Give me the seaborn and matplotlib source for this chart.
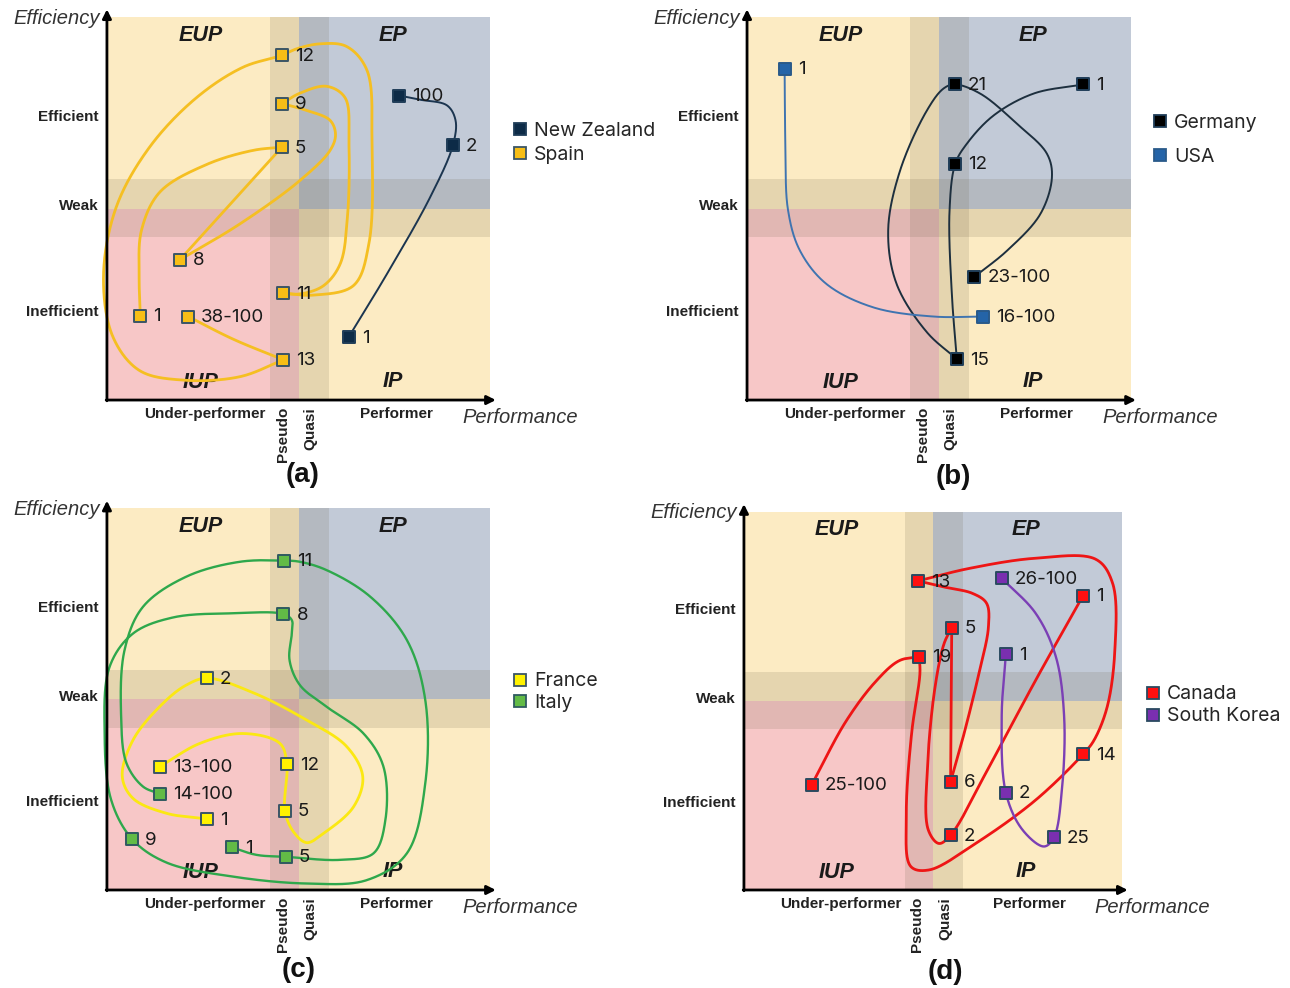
import numpy as np
import matplotlib
matplotlib.use("Agg")
import matplotlib.pyplot as plt
from matplotlib.patches import Rectangle
from matplotlib.lines import Line2D
import seaborn as sns

sns.set_theme(style="white")
plt.rcParams["font.family"] = ["Liberation Sans", "DejaVu Sans"]

# ---------------------------------------------------------------- zones
# Performance axis: under-performer | pseudo | quasi | performer
PSEUDO_START, QUADRANT_SPLIT, QUASI_END = 4.25, 5.0, 5.78
# Efficiency axis: inefficient | lower weak band | upper weak band | efficient
WEAK_LOW, WEAK_SPLIT, WEAK_HIGH = 4.25, 5.0, 5.76

X_TICK_POS = [2.55, 4.58, 5.31, 7.55]
X_TICK_LABELS = ["Under-performer", "Pseudo", "Quasi", "Performer"]
X_TICK_ROT = [0, 90, 90, 0]
Y_TICK_POS = [7.44, 5.1, 2.35]
Y_TICK_LABELS = ["Efficient", "Weak", "Inefficient"]
QUAD_LABELS = ["EUP", "EP", "IUP", "IP"]
QUAD_X = [2.45, 7.45, 2.45, 7.45]
QUAD_Y = [9.52, 9.52, 0.45, 0.48]

# ---------------------------------------------------------------- (a)
NZ_LBL = ["1", "2", "100"]
NZ_X = [6.30, 9.02, 7.62]
NZ_Y = [1.64, 6.65, 7.95]
NZ_ROUTE = [["1", (7.30, 3.29), (8.43, 5.30), "2", (9.09, 7.30),
             (8.87, 7.69), (8.17, 7.84), "100"]]

SPAIN_LBL = ["1", "5", "8", "9", "11", "12", "13", "38-100"]
SPAIN_X = [0.87, 4.56, 1.90, 4.56, 4.58, 4.56, 4.60, 2.12]
SPAIN_Y = [2.20, 6.60, 3.66, 7.74, 2.79, 9.00, 1.05, 2.18]
SPAIN_ROUTE = [
    ["1", (0.84, 3.21), (0.90, 4.43), (1.38, 5.43), (2.60, 6.15),
     (3.82, 6.52), "5"],
    ["5", "8"],
    ["8", (3.47, 4.60), (5.03, 5.73), (5.82, 6.52), (5.96, 6.93),
     (5.82, 7.30), (5.21, 7.56), "9"],
    ["9", (5.03, 8.01), (5.73, 8.19), (6.21, 7.89), (6.31, 6.69),
     (6.27, 4.77), (6.08, 3.55), (5.64, 2.98), (5.03, 2.77), "11"],
    ["11", (5.38, 2.74), (6.43, 2.99), (6.83, 4.08), (6.91, 6.69),
     (6.78, 8.61), (6.25, 9.23), (5.56, 9.30), (4.95, 9.17), "12",
     (3.55, 8.69), (2.33, 7.89), (1.11, 6.60), (0.24, 5.03),
     (-0.09, 3.21), (0.16, 1.64), (0.85, 0.77), (1.99, 0.52),
     (3.47, 0.61), "13"],
    ["13", (3.29, 1.59), "38-100"],
]

# ---------------------------------------------------------------- (b)
GER_LBL = ["1", "12", "15", "21", "23-100"]
GER_X = [8.76, 5.43, 5.47, 5.41, 5.93]
GER_Y = [8.24, 6.17, 1.07, 8.24, 3.22]
GER_ROUTE = [
    ["1", (7.47, 8.00), (6.43, 7.43), (5.73, 6.69), "12", (5.28, 4.95),
     (5.34, 2.77), "15"],
    ["15", (4.69, 1.77), (3.90, 3.03), (3.68, 4.43), (3.99, 5.99),
     (4.69, 7.56), (5.12, 8.13), "21", (6.08, 8.00), (7.04, 7.21),
     (7.82, 6.43), (7.95, 5.82), (7.65, 4.86), (6.78, 3.90), "23-100"],
]

USA_LBL = ["1", "16-100"]
USA_X = [0.98, 6.15]
USA_Y = [8.65, 2.18]
USA_ROUTE = [["1", (1.00, 6.69), (1.07, 4.95), (1.38, 3.90), (2.07, 3.03),
              (3.29, 2.42), (4.86, 2.18), "16-100"]]

# ---------------------------------------------------------------- (c)
FRA_LBL = ["1", "2", "5", "12", "13-100"]
FRA_X = [2.61, 2.61, 4.64, 4.69, 1.38]
FRA_Y = [1.86, 5.55, 2.08, 3.30, 3.23]
FRA_ROUTE = [["1", (1.55, 2.01), (0.68, 2.40), (0.40, 2.97), (0.68, 3.93),
              (1.46, 4.89), (2.07, 5.37), "2", (3.81, 5.17), (5.21, 4.45),
              (6.25, 3.76), (6.67, 2.97), (6.43, 2.18), (5.64, 1.48),
              (5.21, 1.24), (4.86, 1.53), "5", "12", (4.51, 3.84),
              (3.55, 4.10), (2.42, 3.84), "13-100"]]

ITA_LBL = ["1", "5", "8", "9", "11", "14-100"]
ITA_X = [3.25, 4.66, 4.60, 0.66, 4.62, 1.38]
ITA_Y = [1.12, 0.87, 7.23, 1.33, 8.63, 2.52]
ITA_ROUTE = [["1", (3.90, 0.92), "5", (6.08, 0.79), (6.95, 0.96),
              (7.26, 1.83), (7.21, 3.23), (6.69, 4.10), (5.73, 4.80),
              (5.03, 5.37), (4.76, 6.03), (4.82, 6.72), (4.82, 7.07), "8",
              (3.29, 7.25), (1.72, 7.14), (0.68, 6.72), (0.07, 5.85),
              (-0.06, 4.10), (0.11, 2.36), "9", (1.55, 0.72), (3.29, 0.35),
              (5.21, 0.17), (6.78, 0.26), (7.82, 0.96), (8.30, 2.79),
              (8.30, 4.98), (7.82, 6.55), (6.86, 7.69), (5.73, 8.38),
              (5.03, 8.60), "11", (3.47, 8.60), (2.07, 8.21), (0.94, 7.42),
              (0.46, 6.29), (0.37, 4.54), (0.51, 3.32), (0.94, 2.71),
              "14-100"]]

# ---------------------------------------------------------------- (d)
CAN_LBL = ["1", "2", "5", "6", "13", "14", "19", "25-100"]
CAN_X = [8.96, 5.46, 5.49, 5.46, 4.60, 8.96, 4.63, 1.79]
CAN_Y = [7.78, 1.45, 6.93, 2.86, 8.17, 3.59, 6.17, 2.78]
CAN_ROUTE = [
    ["1", (7.71, 5.55), (6.48, 3.26), "2", (5.15, 1.23), (4.87, 1.59),
     (4.85, 3.26), (5.05, 5.37), (5.29, 6.52), "5"],
    ["5", "6"],
    ["6", (5.77, 3.96), (6.21, 5.73), (6.46, 6.96), (6.41, 7.58),
     (6.04, 7.84), (5.33, 8.00), "13"],
    ["13", (5.95, 8.50), (7.71, 8.77), (9.30, 8.74), (9.74, 8.11),
     (9.80, 6.34), (9.60, 4.85), (9.25, 3.96), "14", (7.71, 2.38),
     (6.12, 1.23), (4.89, 0.53), (4.41, 0.62), (4.29, 1.94), (4.43, 4.14),
     (4.65, 5.73), "19"],
    ["19", (4.10, 6.06), (3.48, 5.51), (2.69, 4.45), "25-100"],
]

KOR_LBL = ["1", "2", "25", "26-100"]
KOR_X = [6.92, 6.92, 8.19, 6.81]
KOR_Y = [6.24, 2.57, 1.39, 8.24]
KOR_ROUTE = [["1", (6.81, 4.58), "2", (7.36, 1.59), (7.93, 1.15), "25",
              (8.40, 2.64), (8.46, 4.58), (8.24, 6.17), (7.71, 7.31),
              "26-100"]]

# ---------------------------------------------------------------- styles
BEIGE, BLUE, PINK = "#fcebc3", "#c2cad7", "#f7c7c7"
BAND = (0.40, 0.36, 0.26)
BAND_ALPHA = 0.15

COUNTRIES = {
    "New Zealand": dict(lbl=NZ_LBL, x=NZ_X, y=NZ_Y, route=NZ_ROUTE,
                        line="#1b3550", lw=1.4, fill="#0d2b47", edge="#1f3d58"),
    "Spain": dict(lbl=SPAIN_LBL, x=SPAIN_X, y=SPAIN_Y, route=SPAIN_ROUTE,
                  line="#f5bf22", lw=2.0, fill="#f7be16", edge="#3a5566"),
    "Germany": dict(lbl=GER_LBL, x=GER_X, y=GER_Y, route=GER_ROUTE,
                    line="#1d2f3e", lw=1.4, fill="#000000", edge="#1f3d58"),
    "USA": dict(lbl=USA_LBL, x=USA_X, y=USA_Y, route=USA_ROUTE,
                line="#3f74b0", lw=1.4, fill="#2464a8", edge="#2a5a8a"),
    "France": dict(lbl=FRA_LBL, x=FRA_X, y=FRA_Y, route=FRA_ROUTE,
                   line="#fbe812", lw=2.0, fill="#fff200", edge="#3a5566"),
    "Italy": dict(lbl=ITA_LBL, x=ITA_X, y=ITA_Y, route=ITA_ROUTE,
                  line="#2ea84c", lw=1.7, fill="#62bb46", edge="#2f5a60"),
    "Canada": dict(lbl=CAN_LBL, x=CAN_X, y=CAN_Y, route=CAN_ROUTE,
                   line="#ee1515", lw=2.0, fill="#ff1010", edge="#2a4a60"),
    "South Korea": dict(lbl=KOR_LBL, x=KOR_X, y=KOR_Y, route=KOR_ROUTE,
                        line="#7b3fb5", lw=1.7, fill="#7a2fb0", edge="#2a4a60"),
}

PANELS = [
    dict(tag="(a)", rect=[0.0829, 0.5951, 0.2973, 0.3877],
         countries=["New Zealand", "Spain"], leg=(1.058, 0.672), leg_sp=0.3,
         tag_xy=(0.2349, 0.5192)),
    dict(tag="(b)", rect=[0.5791, 0.5951, 0.2973, 0.3877],
         countries=["Germany", "USA"], leg=(1.058, 0.679), leg_sp=0.85,
         tag_xy=(0.7388, 0.5172)),
    dict(tag="(c)", rect=[0.0829, 0.0992, 0.2973, 0.3863],
         countries=["France", "Italy"], leg=(1.058, 0.518), leg_sp=0.2,
         tag_xy=(0.2318, 0.0182)),
    dict(tag="(d)", rect=[0.5767, 0.0992, 0.2934, 0.3829],
         countries=["Canada", "South Korea"], leg=(1.062, 0.488), leg_sp=0.2,
         tag_xy=(0.7326, 0.0162)),
]


def catmull_rom(nodes, n=40, alpha=0.5):
    """Centripetal Catmull-Rom curve through the given nodes."""
    P = np.asarray(nodes, float)
    if len(P) == 2:
        return P[:, 0], P[:, 1]
    ext = np.vstack([2 * P[0] - P[1], P, 2 * P[-1] - P[-2]])
    out = []
    for i in range(len(ext) - 3):
        p0, p1, p2, p3 = ext[i:i + 4]
        t0 = 0.0
        t1 = t0 + max(np.hypot(*(p1 - p0)), 1e-6) ** alpha
        t2 = t1 + max(np.hypot(*(p2 - p1)), 1e-6) ** alpha
        t3 = t2 + max(np.hypot(*(p3 - p2)), 1e-6) ** alpha
        t = np.linspace(t1, t2, n)[:, None]
        a1 = (t1 - t) / (t1 - t0) * p0 + (t - t0) / (t1 - t0) * p1
        a2 = (t2 - t) / (t2 - t1) * p1 + (t - t1) / (t2 - t1) * p2
        a3 = (t3 - t) / (t3 - t2) * p2 + (t - t2) / (t3 - t2) * p3
        b1 = (t2 - t) / (t2 - t0) * a1 + (t - t0) / (t2 - t0) * a2
        b2 = (t3 - t) / (t3 - t1) * a2 + (t - t1) / (t3 - t1) * a3
        c = (t2 - t) / (t2 - t1) * b1 + (t - t1) / (t2 - t1) * b2
        out.append(c if i == 0 else c[1:])
    C = np.vstack(out)
    return C[:, 0], C[:, 1]


def draw_background(ax):
    ax.add_patch(Rectangle((0, WEAK_SPLIT), QUADRANT_SPLIT, 10 - WEAK_SPLIT,
                           fc=BEIGE, ec="none", zorder=0))
    ax.add_patch(Rectangle((QUADRANT_SPLIT, WEAK_SPLIT), 10 - QUADRANT_SPLIT,
                           10 - WEAK_SPLIT, fc=BLUE, ec="none", zorder=0))
    ax.add_patch(Rectangle((0, 0), QUADRANT_SPLIT, WEAK_SPLIT,
                           fc=PINK, ec="none", zorder=0))
    ax.add_patch(Rectangle((QUADRANT_SPLIT, 0), 10 - QUADRANT_SPLIT,
                           WEAK_SPLIT, fc=BEIGE, ec="none", zorder=0))
    ax.add_patch(Rectangle((PSEUDO_START, 0), QUASI_END - PSEUDO_START, 10,
                           fc=BAND, alpha=BAND_ALPHA, ec="none", zorder=0.5))
    ax.add_patch(Rectangle((0, WEAK_LOW), 10, WEAK_HIGH - WEAK_LOW,
                           fc=BAND, alpha=BAND_ALPHA, ec="none", zorder=0.5))


def draw_country(ax, spec):
    pos = {l: (x, y) for l, x, y in zip(spec["lbl"], spec["x"], spec["y"])}
    for piece in spec["route"]:
        nodes = [pos[p] if isinstance(p, str) else p for p in piece]
        cx, cy = catmull_rom(nodes)
        sns.lineplot(x=cx, y=cy, sort=False, estimator=None, ax=ax,
                     color=spec["line"], lw=spec["lw"], zorder=2,
                     clip_on=False, solid_capstyle="round")
    sns.scatterplot(x=spec["x"], y=spec["y"], marker="s", s=80,
                    color=spec["fill"], edgecolor=spec["edge"], linewidth=1.4,
                    ax=ax, zorder=3, clip_on=False, legend=False)
    for l, x, y in zip(spec["lbl"], spec["x"], spec["y"]):
        ax.text(x + 0.34, y - 0.03, l, ha="left", va="center", fontsize=13.5,
                family=["Inter", "DejaVu Sans"], color="#1a1a1a", zorder=4)


fig = plt.figure(figsize=(12.9, 9.88), dpi=100)
fig.patch.set_facecolor("white")

for panel in PANELS:
    ax = fig.add_axes(panel["rect"])
    ax.set_xlim(0, 10)
    ax.set_ylim(0, 10)
    for sp in ax.spines.values():
        sp.set_visible(False)
    ax.set_facecolor("none")
    draw_background(ax)

    ax.set_yticks(Y_TICK_POS)
    ax.set_yticklabels(Y_TICK_LABELS, fontsize=11, fontweight="bold",
                       color="#222222")
    ax.set_xticks(X_TICK_POS)
    ax.set_xticklabels(X_TICK_LABELS, fontsize=11, fontweight="bold",
                       color="#222222")
    for lab, rot in zip(ax.get_xticklabels(), X_TICK_ROT):
        lab.set_rotation(rot)
    ax.tick_params(axis="both", length=0)
    ax.tick_params(axis="x", pad=5)
    ax.tick_params(axis="y", pad=6)
    ax.grid(False)

    for lab, qx, qy in zip(QUAD_LABELS, QUAD_X, QUAD_Y):
        ax.text(qx, qy, lab, ha="center", va="center", fontsize=15.5,
                fontweight="bold", fontstyle="italic", color="#1a1a1a",
                zorder=1)

    # axes drawn as arrows
    ax.annotate("", xy=(10.14, 0), xytext=(-0.02, 0), annotation_clip=False,
                arrowprops=dict(arrowstyle="-|>", color="black", lw=2,
                                mutation_scale=13, shrinkA=0, shrinkB=0),
                zorder=5)
    ax.annotate("", xy=(0, 10.2), xytext=(0, -0.02), annotation_clip=False,
                arrowprops=dict(arrowstyle="-|>", color="black", lw=2,
                                mutation_scale=13, shrinkA=0, shrinkB=0),
                zorder=5)
    ax.text(-0.18, 9.97, "Efficiency", ha="right", va="center", fontsize=14.5,
            fontstyle="italic", color="#333333")
    ax.text(9.27, -0.46, "Performance", ha="left", va="center", fontsize=14.5,
            fontstyle="italic", color="#333333")

    handles = []
    for name in panel["countries"]:
        spec = COUNTRIES[name]
        draw_country(ax, spec)
        handles.append(Line2D([], [], ls="", marker="s", ms=8,
                              mfc=spec["fill"], mec=spec["edge"], mew=1.3))
    ax.legend(handles, panel["countries"], loc="center left",
              bbox_to_anchor=panel["leg"], frameon=False,
              prop={"family": ["Inter", "DejaVu Sans"], "size": 14},
              handlelength=0.7, handletextpad=0.4,
              labelspacing=panel["leg_sp"], borderaxespad=0, borderpad=0)

    fig.text(*panel["tag_xy"], panel["tag"], ha="center", va="center",
             fontsize=20, fontweight="bold", color="#111111")

fig.savefig("out.png", dpi=100, facecolor="white")
